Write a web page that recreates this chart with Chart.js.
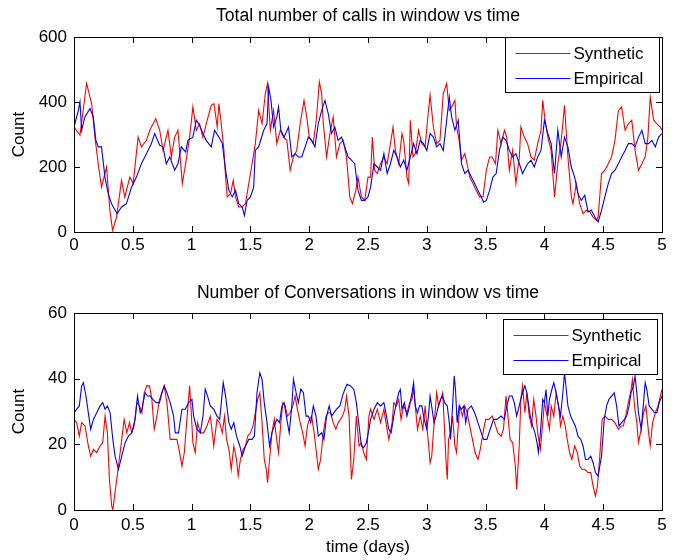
<!DOCTYPE html>
<html>
<head>
<meta charset="utf-8">
<title>Calls and conversations in window vs time</title>
<script src="https://cdn.jsdelivr.net/npm/chart.js@4.4.1/dist/chart.umd.min.js"></script>
<style>
  html, body { margin: 0; padding: 0; background: #fff; }
  body { width: 681px; height: 560px; position: relative; overflow: hidden; }
  .panel { position: absolute; left: 0; width: 681px; }
  #top { top: 0; height: 270px; }
  #bottom { top: 270px; height: 290px; }
</style>
</head>
<body>
<div class="panel" id="top"><canvas id="callsChart"></canvas></div>
<div class="panel" id="bottom"><canvas id="convChart"></canvas></div>
<script>
// [time in days, count]
const callsSynthetic = [[0,323],[0.051,298],[0.107,457],[0.150,395],[0.178,292],[0.206,210],[0.234,138],[0.277,200],[0.305,67],[0.328,5],[0.362,46],[0.404,159],[0.432,108],[0.475,169],[0.503,149],[0.545,292],[0.573,262],[0.616,282],[0.644,313],[0.695,349],[0.729,313],[0.757,251],[0.799,313],[0.828,231],[0.856,292],[0.884,313],[0.921,149],[0.949,210],[0.983,292],[1.011,385],[1.040,313],[1.068,333],[1.096,292],[1.124,333],[1.167,390],[1.190,395],[1.218,323],[1.232,395],[1.246,354],[1.275,251],[1.289,169],[1.303,108],[1.331,118],[1.354,159],[1.373,108],[1.401,77],[1.430,77],[1.458,87],[1.486,149],[1.514,210],[1.542,272],[1.570,374],[1.599,333],[1.627,426],[1.646,457],[1.669,313],[1.697,374],[1.725,272],[1.754,313],[1.782,292],[1.810,282],[1.838,190],[1.866,231],[1.894,251],[1.923,333],[1.956,405],[1.979,354],[2.001,292],[2.035,272],[2.063,354],[2.086,462],[2.106,426],[2.120,333],[2.148,231],[2.176,303],[2.204,354],[2.232,231],[2.261,272],[2.289,282],[2.317,231],[2.345,108],[2.368,87],[2.396,128],[2.415,169],[2.444,108],[2.472,97],[2.500,169],[2.522,169],[2.537,292],[2.556,190],[2.579,180],[2.607,210],[2.635,231],[2.663,210],[2.691,272],[2.713,323],[2.733,251],[2.761,210],[2.789,303],[2.803,282],[2.831,169],[2.846,149],[2.860,344],[2.882,231],[2.902,241],[2.930,313],[2.958,272],[2.986,262],[3.006,344],[3.028,421],[3.056,323],[3.084,272],[3.112,282],[3.140,426],[3.169,457],[3.191,374],[3.211,385],[3.239,405],[3.253,323],[3.275,282],[3.295,221],[3.323,241],[3.343,210],[3.365,169],[3.393,149],[3.421,128],[3.449,108],[3.478,108],[3.506,190],[3.534,231],[3.556,231],[3.584,210],[3.604,313],[3.632,272],[3.660,313],[3.680,292],[3.702,190],[3.730,251],[3.758,149],[3.787,231],[3.800,323],[3.829,292],[3.857,272],[3.886,231],[3.914,221],[3.943,272],[3.971,313],[3.986,405],[4.006,344],[4.029,292],[4.057,251],[4.086,108],[4.114,210],[4.143,282],[4.171,390],[4.200,231],[4.229,108],[4.243,87],[4.271,149],[4.300,87],[4.329,56],[4.357,67],[4.386,62],[4.414,46],[4.443,36],[4.457,46],[4.486,180],[4.514,190],[4.543,210],[4.571,231],[4.600,282],[4.629,374],[4.657,385],[4.686,313],[4.714,333],[4.743,344],[4.771,251],[4.800,190],[4.829,210],[4.857,231],[4.880,292],[4.900,415],[4.929,344],[4.957,333],[4.986,323],[5.000,313]];

const callsEmpirical = [[0,323],[0.037,374],[0.051,400],[0.065,313],[0.093,354],[0.136,380],[0.164,354],[0.186,282],[0.206,262],[0.234,262],[0.263,169],[0.291,118],[0.319,87],[0.367,56],[0.404,77],[0.446,87],[0.489,138],[0.531,169],[0.573,210],[0.616,241],[0.658,272],[0.686,303],[0.729,267],[0.757,262],[0.785,210],[0.814,231],[0.856,190],[0.884,210],[0.912,262],[0.949,246],[0.969,282],[1.011,292],[1.040,344],[1.068,328],[1.096,303],[1.124,282],[1.167,262],[1.195,313],[1.232,292],[1.261,272],[1.289,190],[1.317,128],[1.345,108],[1.373,128],[1.401,87],[1.430,77],[1.449,51],[1.472,97],[1.500,108],[1.528,138],[1.542,251],[1.570,262],[1.613,313],[1.641,333],[1.655,446],[1.675,405],[1.697,323],[1.725,354],[1.739,385],[1.759,313],[1.787,292],[1.824,323],[1.852,231],[1.880,241],[1.908,231],[1.937,231],[1.965,262],[1.993,292],[2.021,282],[2.049,262],[2.077,333],[2.106,374],[2.134,405],[2.162,364],[2.190,303],[2.218,323],[2.246,282],[2.275,292],[2.303,262],[2.331,231],[2.359,221],[2.387,210],[2.415,128],[2.444,97],[2.472,97],[2.500,108],[2.522,138],[2.551,210],[2.579,200],[2.607,190],[2.635,241],[2.663,180],[2.691,210],[2.719,251],[2.747,231],[2.775,200],[2.803,221],[2.831,190],[2.860,231],[2.888,272],[2.916,241],[2.944,282],[2.972,272],[3.000,251],[3.028,303],[3.056,292],[3.084,262],[3.112,272],[3.140,251],[3.169,344],[3.191,415],[3.211,354],[3.239,313],[3.267,344],[3.295,210],[3.323,180],[3.351,190],[3.379,169],[3.407,149],[3.435,128],[3.463,108],[3.483,92],[3.506,97],[3.534,128],[3.562,169],[3.590,180],[3.618,251],[3.646,292],[3.674,282],[3.702,251],[3.730,231],[3.758,241],[3.787,210],[3.814,180],[3.857,210],[3.886,221],[3.914,200],[3.943,231],[3.971,251],[4.000,344],[4.029,303],[4.057,272],[4.086,180],[4.114,313],[4.143,231],[4.171,292],[4.200,262],[4.229,200],[4.257,169],[4.286,118],[4.314,97],[4.343,113],[4.371,62],[4.400,67],[4.429,46],[4.457,31],[4.486,67],[4.514,108],[4.543,149],[4.571,180],[4.600,190],[4.629,210],[4.657,231],[4.686,251],[4.714,272],[4.743,272],[4.771,262],[4.800,292],[4.829,313],[4.857,272],[4.886,272],[4.914,282],[4.943,262],[4.971,292],[5.000,303]];

const convSynthetic = [[0,27.6],[0.023,26.6],[0.045,22.5],[0.065,26.6],[0.094,25.6],[0.122,19.5],[0.142,16.4],[0.165,18.5],[0.193,17.5],[0.222,19.5],[0.244,20.5],[0.264,28.6],[0.284,23.5],[0.301,9.3],[0.321,1.2],[0.330,0],[0.349,5.3],[0.378,13.4],[0.406,21.5],[0.426,27.6],[0.449,23.5],[0.472,26.6],[0.491,23.5],[0.511,25.6],[0.534,32.7],[0.557,31.7],[0.577,29.6],[0.597,35.7],[0.619,37.8],[0.642,37.8],[0.662,33.7],[0.682,24.6],[0.705,28.6],[0.727,33.7],[0.747,35.7],[0.767,37.8],[0.790,32.7],[0.818,21.5],[0.847,21.5],[0.875,21.5],[0.898,17.5],[0.918,13.4],[0.938,17.5],[0.960,27.6],[0.983,37.8],[0.994,31.7],[1.011,20.5],[1.031,17.5],[1.051,26.6],[1.074,23.5],[1.102,23.5],[1.131,25.6],[1.159,28.6],[1.173,24.6],[1.188,19.5],[1.216,27.6],[1.239,26.6],[1.261,23.5],[1.280,28.6],[1.297,21.5],[1.317,18.5],[1.337,12.4],[1.359,19.5],[1.382,15.4],[1.396,10.4],[1.415,15.4],[1.438,18.5],[1.458,19.5],[1.477,22.5],[1.500,23.5],[1.522,25.6],[1.542,29.6],[1.562,33.7],[1.580,35.7],[1.599,26.6],[1.618,15.4],[1.635,12.4],[1.646,8.3],[1.663,15.4],[1.683,23.5],[1.703,27.6],[1.720,22.5],[1.739,17.5],[1.759,26.6],[1.776,32.7],[1.796,31.7],[1.815,28.6],[1.838,29.6],[1.861,31.7],[1.880,34.7],[1.900,30.7],[1.923,26.6],[1.945,23.5],[1.965,19.5],[1.985,25.6],[2.001,27.6],[2.021,28.6],[2.042,23.5],[2.058,18.5],[2.077,12.4],[2.097,15.4],[2.120,23.5],[2.143,28.6],[2.162,29.6],[2.182,29.6],[2.204,26.6],[2.227,24.6],[2.246,26.6],[2.266,27.6],[2.283,28.6],[2.303,30.7],[2.317,34.7],[2.339,28.6],[2.359,9.3],[2.379,15.4],[2.401,28.6],[2.424,19.5],[2.444,20.5],[2.463,17.5],[2.486,15.4],[2.508,28.6],[2.522,30.7],[2.551,27.6],[2.579,30.7],[2.607,26.6],[2.635,30.7],[2.657,25.6],[2.677,21.5],[2.705,26.6],[2.719,32.7],[2.742,31.7],[2.761,33.7],[2.781,27.6],[2.803,31.7],[2.831,29.6],[2.854,32.7],[2.874,33.7],[2.888,36.7],[2.902,31.7],[2.921,24.6],[2.944,28.6],[2.966,24.6],[2.986,31.7],[3.000,25.6],[3.014,20.5],[3.028,14.4],[3.042,16.4],[3.056,23.5],[3.073,30.7],[3.084,35.7],[3.101,31.7],[3.118,33.7],[3.135,35.7],[3.152,23.5],[3.163,15.4],[3.174,9.3],[3.185,21.5],[3.202,23.5],[3.219,28.6],[3.239,19.5],[3.253,17.5],[3.267,25.6],[3.281,31.7],[3.303,28.6],[3.323,31.7],[3.343,29.6],[3.365,25.6],[3.388,21.5],[3.410,17.5],[3.435,15.4],[3.455,18.5],[3.478,23.5],[3.500,27.6],[3.528,27.6],[3.556,28.6],[3.576,26.6],[3.604,23.5],[3.632,22.5],[3.652,24.6],[3.674,34.7],[3.688,29.6],[3.708,21.5],[3.730,20.5],[3.753,13.4],[3.764,6.3],[3.786,19.5],[3.800,33.7],[3.814,37.8],[3.834,29.6],[3.851,35.7],[3.871,28.6],[3.891,25.6],[3.909,33.7],[3.929,28.6],[3.943,23.5],[3.966,18.5],[3.986,26.6],[4.000,32.7],[4.023,28.6],[4.043,24.6],[4.057,31.7],[4.080,28.6],[4.100,35.7],[4.120,31.7],[4.137,25.6],[4.157,28.6],[4.177,25.6],[4.194,21.5],[4.214,17.5],[4.234,15.4],[4.257,19.5],[4.280,17.5],[4.300,13.4],[4.320,12.4],[4.343,12.4],[4.371,11.4],[4.394,11.4],[4.414,7.3],[4.434,4.3],[4.451,7.3],[4.471,16.4],[4.491,27.6],[4.514,28.6],[4.543,27.6],[4.571,27.6],[4.600,26.6],[4.629,24.6],[4.651,25.6],[4.671,25.6],[4.691,28.6],[4.714,32.7],[4.737,36.7],[4.749,39.8],[4.766,31.7],[4.786,26.6],[4.800,20.5],[4.823,24.6],[4.843,29.6],[4.863,31.7],[4.886,23.5],[4.900,19.5],[4.920,26.6],[4.943,29.6],[4.966,31.7],[4.986,34.7],[5.000,36.7]];

const convEmpirical = [[0,29.6],[0.023,30.7],[0.045,31.7],[0.065,37.8],[0.080,38.8],[0.102,34.7],[0.122,29.6],[0.142,24.6],[0.165,27.6],[0.193,29.6],[0.222,31.7],[0.244,32.7],[0.264,30.7],[0.284,31.7],[0.307,29.6],[0.330,21.5],[0.349,16.4],[0.378,12.4],[0.406,16.4],[0.435,20.5],[0.463,22.5],[0.491,23.5],[0.520,27.6],[0.540,34.7],[0.563,29.6],[0.577,30.7],[0.605,35.7],[0.625,34.7],[0.648,34.7],[0.670,33.7],[0.699,32.7],[0.727,32.7],[0.747,35.7],[0.767,37.8],[0.790,35.7],[0.818,32.7],[0.847,28.6],[0.861,23.5],[0.889,23.5],[0.918,30.7],[0.946,30.7],[0.974,32.7],[1.003,33.7],[1.017,28.6],[1.045,24.6],[1.074,23.5],[1.097,28.6],[1.116,36.8],[1.136,34.7],[1.159,31.7],[1.188,30.7],[1.216,28.6],[1.239,27.6],[1.269,38.8],[1.289,34.7],[1.317,26.6],[1.337,24.6],[1.359,26.6],[1.382,22.5],[1.410,19.5],[1.430,16.4],[1.458,19.5],[1.486,21.5],[1.514,21.5],[1.534,22.5],[1.556,35.7],[1.580,41.8],[1.599,39.8],[1.618,32.7],[1.641,26.6],[1.663,19.5],[1.683,23.5],[1.703,25.6],[1.725,27.6],[1.748,26.6],[1.768,31.7],[1.787,32.7],[1.810,27.6],[1.830,23.5],[1.852,31.7],[1.866,39.8],[1.889,35.7],[1.908,32.7],[1.928,36.8],[1.951,35.7],[1.973,28.6],[1.993,28.6],[2.013,26.6],[2.035,31.7],[2.058,28.6],[2.077,22.5],[2.106,23.5],[2.125,21.5],[2.148,28.6],[2.170,31.7],[2.190,28.6],[2.210,29.6],[2.232,30.7],[2.261,31.7],[2.283,34.7],[2.303,36.8],[2.322,38.3],[2.351,37.8],[2.379,36.8],[2.401,32.7],[2.424,25.6],[2.444,19.5],[2.463,19.0],[2.486,20.5],[2.508,24.6],[2.522,27.6],[2.551,30.7],[2.579,32.7],[2.607,31.7],[2.635,32.7],[2.657,28.6],[2.677,24.6],[2.697,23.5],[2.719,28.6],[2.742,32.7],[2.761,35.7],[2.775,36.7],[2.789,30.7],[2.809,32.7],[2.831,28.6],[2.854,31.7],[2.874,35.7],[2.888,38.8],[2.902,31.7],[2.921,29.6],[2.938,31.7],[2.958,31.7],[2.978,27.6],[3.000,24.6],[3.014,28.6],[3.028,34.7],[3.045,30.7],[3.062,26.6],[3.079,28.6],[3.098,31.7],[3.118,33.7],[3.135,34.7],[3.152,32.7],[3.174,31.7],[3.191,26.6],[3.202,21.5],[3.219,31.7],[3.233,40.8],[3.244,36.7],[3.258,26.6],[3.275,31.7],[3.295,30.7],[3.315,31.7],[3.331,26.6],[3.351,30.7],[3.379,31.7],[3.407,29.6],[3.435,26.6],[3.463,23.5],[3.483,21.5],[3.511,21.5],[3.539,24.6],[3.567,27.6],[3.596,27.6],[3.632,28.6],[3.660,27.6],[3.680,31.7],[3.702,34.7],[3.725,34.7],[3.744,32.7],[3.764,28.6],[3.786,31.7],[3.806,34.7],[3.823,36.7],[3.834,37.8],[3.851,35.7],[3.863,32.7],[3.880,28.6],[3.900,25.6],[3.920,23.5],[3.937,20.5],[3.949,17.5],[3.966,23.5],[3.986,33.7],[4.000,32.7],[4.014,36.7],[4.029,28.6],[4.043,33.7],[4.063,36.7],[4.080,38.8],[4.100,35.7],[4.120,31.7],[4.137,28.6],[4.157,35.7],[4.171,41.8],[4.186,36.7],[4.200,31.7],[4.223,28.6],[4.243,27.1],[4.263,25.6],[4.286,22.5],[4.309,21.5],[4.329,19.5],[4.349,15.4],[4.371,15.4],[4.394,16.4],[4.414,14.4],[4.434,11.4],[4.457,10.4],[4.471,13.4],[4.486,16.4],[4.509,27.6],[4.529,31.7],[4.549,33.7],[4.571,34.7],[4.594,35.7],[4.614,31.7],[4.634,25.6],[4.657,26.6],[4.680,27.6],[4.700,28.6],[4.720,31.7],[4.737,35.7],[4.757,37.8],[4.771,40.8],[4.786,35.7],[4.800,29.6],[4.823,24.6],[4.843,32.7],[4.857,38.8],[4.871,36.7],[4.891,31.7],[4.914,30.7],[4.937,29.6],[4.957,29.6],[4.977,32.7],[5.000,34.7]];

const seriesNames = ['Synthetic', 'Empirical'];
const seriesColors = ['#ff0000', '#0000ff'];
const callsTicks = [0, 200, 400, 600];
const convTicks = [0, 20, 40, 60];

const FAMILY = '"Liberation Sans", Arial, sans-serif';
const FONT = { family: FAMILY, size: 17 };
const TITLE_SIZE = 17.6;

// MATLAB style box: frame with inward ticks, title, and a boxed legend
const matlabFrame = {
    id: 'matlabFrame',
    afterDatasetsDraw(chart, args, opts) {
        const ctx = chart.ctx;
        const a = chart.chartArea;
        const xs = chart.scales.x;
        const ys = chart.scales.y;
        ctx.save();
        ctx.strokeStyle = '#000';
        ctx.lineWidth = 1;
        ctx.strokeRect(Math.round(a.left) + 0.5, Math.round(a.top) + 0.5,
            Math.round(a.width), Math.round(a.height));

        ctx.beginPath();
        xs.ticks.forEach(t => {
            const px = Math.round(xs.getPixelForValue(t.value)) + 0.5;
            ctx.moveTo(px, a.bottom); ctx.lineTo(px, a.bottom - 6);
            ctx.moveTo(px, a.top); ctx.lineTo(px, a.top + 6);
        });
        ys.ticks.forEach(t => {
            const py = Math.round(ys.getPixelForValue(t.value)) + 0.5;
            ctx.moveTo(a.left, py); ctx.lineTo(a.left + 6, py);
            ctx.moveTo(a.right, py); ctx.lineTo(a.right - 6, py);
        });
        ctx.stroke();

        // title above the axes
        ctx.font = TITLE_SIZE + 'px ' + FAMILY;
        ctx.fillStyle = '#000';
        ctx.textAlign = 'center';
        ctx.textBaseline = 'middle';
        ctx.fillText(opts.title, (a.left + a.right) / 2, a.top - opts.titleGap);

        // legend box in the top right corner
        const lg = opts.legend;
        const bx = Math.round(a.right - lg.right - lg.w) + 0.5;
        const by = Math.round(a.top + lg.top) + 0.5;
        ctx.font = FONT.size + 'px ' + FAMILY;
        ctx.fillStyle = '#fff';
        ctx.fillRect(bx, by, lg.w, lg.h);
        ctx.strokeRect(bx, by, lg.w, lg.h);
        ctx.textAlign = 'left';
        seriesNames.forEach((name, i) => {
            const ry = Math.round(by + 15 + i * 25) + 0.5;
            ctx.strokeStyle = seriesColors[i];
            ctx.beginPath();
            ctx.moveTo(bx + 10, ry);
            ctx.lineTo(bx + 65, ry);
            ctx.stroke();
            ctx.fillStyle = '#000';
            ctx.fillText(name, bx + 68, ry + 1);
        });
        ctx.restore();
    }
};

function toPoints(pairs) {
    return pairs.map(p => ({ x: p[0], y: p[1] }));
}

function makeChart(canvasId, synthetic, empirical, yTicks, opts) {
    const ctx = document.getElementById(canvasId).getContext('2d');
    return new Chart(ctx, {
        type: 'line',
        data: {
            datasets: [
                { label: seriesNames[0], data: toPoints(synthetic), borderColor: seriesColors[0], order: 2 },
                { label: seriesNames[1], data: toPoints(empirical), borderColor: seriesColors[1], order: 1 }
            ]
        },
        options: {
            responsive: true,
            maintainAspectRatio: false,
            animation: false,
            layout: { padding: { top: opts.padTop, right: 19, left: 0, bottom: 0 } },
            elements: {
                point: { radius: 0 },
                line: { borderWidth: 1.1, tension: 0, fill: false }
            },
            scales: {
                x: {
                    type: 'linear',
                    min: 0,
                    max: 5,
                    grid: { display: false, drawTicks: false },
                    border: { display: false },
                    ticks: {
                        stepSize: 0.5,
                        padding: opts.xPad,
                        maxRotation: 0,
                        autoSkip: false,
                        color: '#000',
                        font: FONT,
                        callback: v => String(Math.round(v * 10) / 10)
                    },
                    title: {
                        display: opts.xTitle !== '',
                        text: opts.xTitle,
                        color: '#000',
                        font: FONT,
                        padding: { top: 0, bottom: 2 }
                    },
                    afterFit: s => { s.height = opts.xHeight; }
                },
                y: {
                    min: yTicks[0],
                    max: yTicks[yTicks.length - 1],
                    grid: { display: false, drawTicks: false },
                    border: { display: false },
                    afterBuildTicks: s => { s.ticks = yTicks.map(v => ({ value: v })); },
                    ticks: { padding: 7, color: '#000', font: FONT },
                    title: {
                        display: true,
                        text: 'Count',
                        color: '#000',
                        font: FONT,
                        padding: { top: 9, bottom: 0 }
                    },
                    afterFit: s => { s.width = 74; }
                }
            },
            plugins: {
                legend: { display: false },
                tooltip: { enabled: false },
                matlabFrame: opts.frame
            }
        },
        plugins: [matlabFrame]
    });
}

makeChart('callsChart', callsSynthetic, callsEmpirical, callsTicks, {
    padTop: 37,
    xHeight: 38,
    xPad: 3,
    xTitle: '',
    frame: {
        title: 'Total number of calls in window vs time',
        titleGap: 21,
        legend: { right: 3, top: 0, w: 154, h: 55 }
    }
});

makeChart('convChart', convSynthetic, convEmpirical, convTicks, {
    padTop: 43,
    xHeight: 50,
    xPad: 5,
    xTitle: 'time (days)',
    frame: {
        title: 'Number of Conversations in window vs time',
        titleGap: 20,
        legend: { right: 5, top: 6, w: 154, h: 55 }
    }
});
</script>
</body>
</html>
